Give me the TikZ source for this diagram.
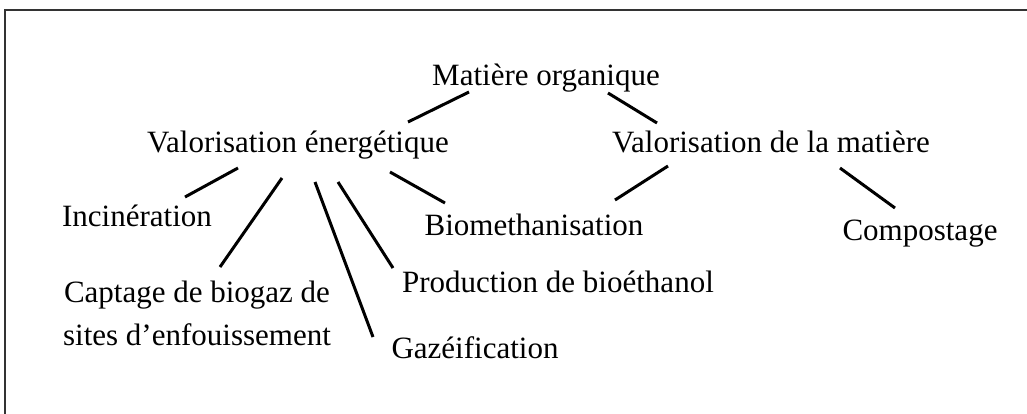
\documentclass[tikz,border=0pt]{standalone}
\usepackage{fontspec}
\setmainfont{Liberation Serif}
\begin{document}
\begin{tikzpicture}[x=1pt,y=-1pt,
  lbl/.style={inner sep=0pt, anchor=base, font=\fontsize{31}{40}\selectfont},
  conn/.style={line width=3pt, black},
  frame/.style={line width=2pt, draw={rgb,255:red,51;green,51;blue,51}}]
\useasboundingbox (0,0) rectangle (1027,413);
\begin{scope}
\clip (0,0) rectangle (1027,413);
\draw[frame] (5,420) -- (5,10) -- (1035,10);
\end{scope}
% nodes
\node[lbl] (mo) at (546,85) {Matière organique};
\node[lbl] (ve) at (298,152) {Valorisation énergétique};
\node[lbl] (vm) at (771,152) {Valorisation de la matière};
\node[lbl] (inc) at (137,226) {Incinération};
\node[lbl, align=center] (cap) at (197,345) {Captage de biogaz de\\[3pt]sites d'enfouissement};
\node[lbl] (bio) at (534,235) {Biomethanisation};
\node[lbl] (prod) at (558,292) {Production de bioéthanol};
\node[lbl] (gaz) at (475,358) {Gazéification};
\node[lbl] (comp) at (920,240) {Compostage};
% connector ends
\coordinate (mo-l) at (469,92);
\coordinate (ve-t) at (408,122);
\coordinate (mo-r) at (608,93);
\coordinate (vm-t) at (657,123);
\coordinate (vm-bl) at (668,166);
\coordinate (bio-tr) at (615,200);
\coordinate (vm-br) at (840,168);
\coordinate (comp-t) at (895,208);
\coordinate (ve-b1) at (238,168);
\coordinate (inc-t) at (185,197);
\coordinate (ve-b2) at (282,178);
\coordinate (cap-t) at (220,267);
\coordinate (ve-b3) at (315,182);
\coordinate (gaz-t) at (373,337);
\coordinate (ve-b4) at (338,182);
\coordinate (prod-t) at (393,268);
\coordinate (ve-b5) at (390,172);
\coordinate (bio-tl) at (445,203);
% connectors
\draw[conn] (mo-l) -- (ve-t);
\draw[conn] (mo-r) -- (vm-t);
\draw[conn] (vm-bl) -- (bio-tr);
\draw[conn] (vm-br) -- (comp-t);
\draw[conn] (ve-b1) -- (inc-t);
\draw[conn] (ve-b2) -- (cap-t);
\draw[conn] (ve-b3) -- (gaz-t);
\draw[conn] (ve-b4) -- (prod-t);
\draw[conn] (ve-b5) -- (bio-tl);
\end{tikzpicture}
\end{document}
